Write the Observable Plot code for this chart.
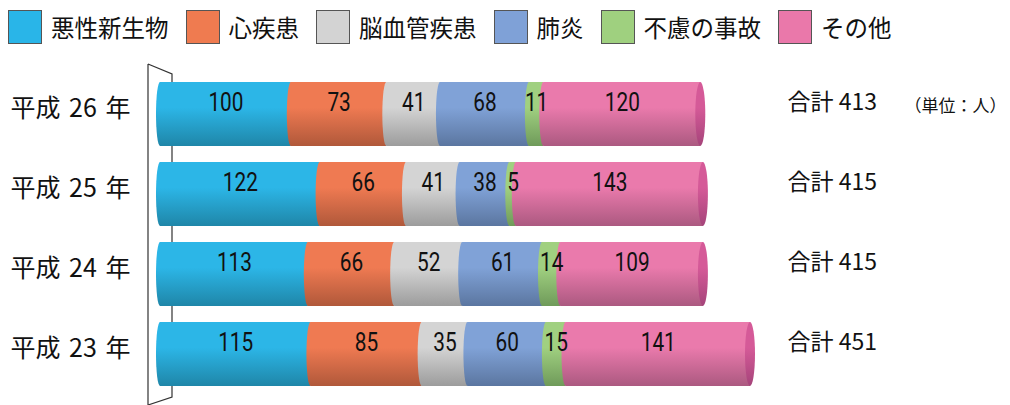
<!DOCTYPE html>
<html><head><meta charset="utf-8">
<script src="https://cdn.jsdelivr.net/npm/d3@7"></script>
<script src="https://cdn.jsdelivr.net/npm/@observablehq/plot@0.6"></script>
<style>
body{margin:0;background:#fff;font-family:"Noto Sans CJK JP",sans-serif;}
#legend{height:54px;display:flex;align-items:center;padding-left:8px;font-size:23.5px;color:#111;}
.item{display:flex;align-items:center;margin-right:17px}
.sw{width:34px;height:34px;border:1.5px solid #555;box-sizing:border-box;margin-right:9px}
#chart svg{display:block}
</style></head><body>
<div id="legend"></div><div id="chart"></div>
<script>
const years = ["平成 26 年", "平成 25 年", "平成 24 年", "平成 23 年"];
const causes = ["悪性新生物", "心疾患", "脳血管疾患", "肺炎", "不慮の事故", "その他"];
const values26 = [100, 73, 41, 68, 11, 120];
const values25 = [122, 66, 41, 38, 5, 143];
const values24 = [113, 66, 52, 61, 14, 109];
const values23 = [115, 85, 35, 60, 15, 141];
const totals = [413, 415, 415, 451];
const unitLabel = "（単位：人）";
const swatchColors = ["#29b5e8", "#ef7b50", "#d3d3d3", "#7fa1d7", "#9fd07f", "#ea78aa"];
const gradTop = ["#2cb6e7", "#ef7a52", "#d4d4d4", "#80a2d7", "#a0d080", "#ea7aac"];
const gradBottom = ["#1f86a8", "#b0583a", "#9c9c9c", "#5b76a0", "#6f9a5a", "#ab5980"];
const capTop = "#d55a98", capBottom = "#a5447a";

const allValues = [values26, values25, values24, values23];
const segs = [];
allValues.forEach((vals, r) => {
  let acc = 0;
  vals.forEach((v, i) => {
    segs.push({year: years[r], cause: causes[i], i, value: v, x1: acc, x2: acc + v});
    acc += v;
  });
});
const totalRows = years.map((y, r) => ({year: y, total: totals[r]}));

// legend
const lg = document.getElementById("legend");
causes.forEach((c, i) => {
  const it = document.createElement("div"); it.className = "item";
  const sw = document.createElement("div"); sw.className = "sw"; sw.style.background = swatchColors[i];
  const t = document.createElement("span"); t.textContent = c;
  it.appendChild(sw); it.appendChild(t); lg.appendChild(it);
});

const numFont = "'Roboto', sans-serif";
const plot = Plot.plot({
  width: 1010, height: 351,
  marginLeft: 160, marginRight: 260, marginTop: 20, marginBottom: 11,
  x: {domain: [0, 451], axis: null},
  y: {domain: years, axis: null, paddingInner: 0.2, paddingOuter: 0.1},
  color: {type: "identity"},
  style: {fontFamily: "'Noto Sans CJK JP', sans-serif", background: "transparent"},
  marks: [
    Plot.barX(segs, {x1: "x1", x2: "x2", y: "year", fill: d => `url(#g${d.i})`}),
    Plot.barX(segs, {x1: "x1", x2: "x1", y: "year", insetLeft: -4, insetRight: -4, rx: 4, ry: 40, fill: d => `url(#g${d.i})`}),
    Plot.barX(totalRows, {x1: "total", x2: "total", y: "year", insetLeft: -5, insetRight: -5, rx: 5, ry: 40, fill: () => "url(#gcap)"}),
    Plot.text(segs, {x: d => (d.x1 + d.x2) / 2, y: "year", text: d => String(d.value), dy: -12, fontSize: 26, fontFamily: numFont, fill: "#111"}),
    Plot.text(years, {y: d => d, frameAnchor: "left", dx: -150, dy: -6, textAnchor: "start", text: d => d, fontSize: 25, fill: "#111"}),
    Plot.text(totalRows, {y: "year", frameAnchor: "right", dx: 37, dy: -12, textAnchor: "start", text: d => "合計 " + d.total, fontSize: 23, fill: "#111"}),
    Plot.text([unitLabel], {frameAnchor: "top-right", dx: 256, dy: 25, textAnchor: "end", text: d => d, fontSize: 17, fill: "#111"})
  ]
});

const svg = d3.select(plot);
const defs = svg.insert("defs", ":first-child");
function grad(id, top, bottom) {
  const g = defs.append("linearGradient").attr("id", id).attr("x1", 0).attr("y1", 0).attr("x2", 0).attr("y2", 1);
  g.append("stop").attr("offset", "0").attr("stop-color", top);
  g.append("stop").attr("offset", "0.4").attr("stop-color", top);
  g.append("stop").attr("offset", "1").attr("stop-color", bottom);
}
gradTop.forEach((c, i) => grad("g" + i, c, gradBottom[i]));
grad("gcap", capTop, capBottom);

const sx = plot.scale("x");
const x0 = sx.apply(0);
const H = 351;
svg.insert("path", "defs + *")
  .attr("d", `M${x0 - 12},10 L${x0 - 12},${H} M${x0 - 12},10 L${x0 + 12},20 L${x0 + 12},${H - 8} L${x0 - 12},${H}`)
  .attr("fill", "none").attr("stroke", "#333").attr("stroke-width", 1.2);

document.getElementById("chart").appendChild(plot);

// condense the numeric labels
const textGroups = svg.selectAll('g[aria-label="text"]').nodes();
function condense(group, s) {
  d3.select(group).selectAll("text").each(function() {
    const b = this.getBBox();
    const cx = b.x + b.width / 2;
    const t = this.getAttribute("transform") || "";
    this.setAttribute("transform", `${t} translate(${cx},0) scale(${s},1) translate(${-cx},0)`);
  });
}
if (textGroups[0]) condense(textGroups[0], 0.8);
if (textGroups[1]) d3.select(textGroups[1]).selectAll("text").style("word-spacing", "3px");
</script>
</body></html>
